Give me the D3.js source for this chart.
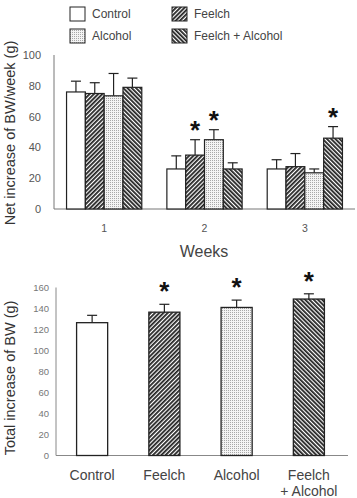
<!DOCTYPE html>
<html><head><meta charset="utf-8">
<script src="https://cdn.jsdelivr.net/npm/d3@7"></script>
<style>body{margin:0;background:#fff;} svg{display:block;} text{font-family:Arial,"Liberation Sans",sans-serif;}</style>
</head><body>
<svg id="c" width="357" height="498"></svg>
<script>
const groups = ["Control","Feelch","Alcohol","Feelch + Alcohol"];
const weeks = ["1","2","3"];
const weeklyMean = [[76,26,26],[75,35,27.5],[73.5,45,23.5],[79,26,46]];
const weeklyErr  = [[7,8.5,6],[7,10,8.5],[14.5,6.5,2.5],[6,4,7.5]];
const weeklySig  = [[0,0,0],[0,1,0],[0,1,0],[0,0,1]];
const topTicks = [0,20,40,60,80,100];
const totalMean = [126.5,136.5,141,149];
const totalErr  = [7,7.5,7,5];
const totalSig  = [0,1,1,1];
const bottomTicks = [0,20,40,60,80,100,120,140,160];
const bottomLabels = [["Control"],["Feelch"],["Alcohol"],["Feelch","+ Alcohol"]];

const svg = d3.select("#c");
const defs = svg.append("defs");
function hatch(id, angle){
  const p = defs.append("pattern").attr("id",id).attr("patternUnits","userSpaceOnUse")
    .attr("width",3).attr("height",3).attr("patternTransform","rotate("+angle+")");
  p.append("rect").attr("width",3).attr("height",3).attr("fill","#fff");
  p.append("rect").attr("width",1.8).attr("height",3).attr("fill","#222");
}
hatch("pF",45); hatch("pFA",-45);
const pd = defs.append("pattern").attr("id","pA").attr("patternUnits","userSpaceOnUse").attr("width",2).attr("height",2);
pd.append("rect").attr("width",2).attr("height",2).attr("fill","#f4f4f4");
pd.append("rect").attr("width",1).attr("height",1).attr("fill","#a8a8a8");
const fills = ["#fff","url(#pF)","url(#pA)","url(#pFA)"];
const ink = "#222";

// Legend
[[0,70,7],[1,172,7],[2,70,29],[3,172,29]].forEach(([g,lx,ly])=>{
  svg.append("rect").attr("x",lx).attr("y",ly).attr("width",15).attr("height",14)
    .attr("fill",fills[g]).attr("stroke",ink).attr("stroke-width",1);
  svg.append("text").attr("x",lx+22).attr("y",ly+11).attr("font-size",12).attr("fill","#444").text(groups[g]);
});

// Top chart
const xT = d3.scaleBand().domain(weeks).range([54,355]).paddingInner(0.25).paddingOuter(0.125);
const xTi = d3.scaleBand().domain(groups).range([0,xT.bandwidth()]);
const yT = d3.scaleLinear().domain([0,100]).range([209,55]);
const gT = svg.append("g");
gT.append("line").attr("x1",54).attr("x2",54).attr("y1",yT(100)).attr("y2",yT(0)).attr("stroke","#777").attr("stroke-width",1);
gT.append("line").attr("x1",54).attr("x2",355).attr("y1",yT(0)).attr("y2",yT(0)).attr("stroke","#777").attr("stroke-width",1);
const axT = d3.axisLeft(yT).tickValues(topTicks).tickSize(0).tickPadding(13);
const axTg = gT.append("g").attr("transform","translate(54,0)").call(axT);
axTg.select(".domain").remove();
axTg.selectAll("text").attr("font-size",11).attr("fill","#555").attr("font-family","Arial,'Liberation Sans',sans-serif");
const axTx = d3.axisBottom(xT).tickSize(0).tickPadding(16);
const axTxg = gT.append("g").attr("transform","translate(0,"+yT(0)+")").call(axTx);
axTxg.select(".domain").remove();
axTxg.selectAll("text").attr("font-size",10.5).attr("fill","#555").attr("font-family","Arial,'Liberation Sans',sans-serif");
gT.append("text").attr("x",204).attr("y",257).attr("text-anchor","middle").attr("font-size",16).attr("fill","#444").text("Weeks");
gT.append("text").attr("transform","translate(15,133) rotate(-90)").attr("text-anchor","middle").attr("font-size",14.5).attr("fill","#333").text("Net increase of BW/week (g)");

groups.forEach((g,gi)=>{
  weeks.forEach((w,wi)=>{
    const x0 = xT(w)+xTi(g), bw = xTi.bandwidth(), cx = x0+bw/2;
    const m = weeklyMean[gi][wi], e = weeklyErr[gi][wi];
    gT.append("line").attr("x1",cx).attr("x2",cx).attr("y1",yT(m)).attr("y2",yT(m+e)).attr("stroke",ink).attr("stroke-width",1.2);
    gT.append("line").attr("x1",cx-5).attr("x2",cx+5).attr("y1",yT(m+e)).attr("y2",yT(m+e)).attr("stroke",ink).attr("stroke-width",1.2);
    gT.append("rect").attr("x",x0).attr("y",yT(m)).attr("width",bw).attr("height",yT(0)-yT(m))
      .attr("fill",fills[gi]).attr("stroke",ink).attr("stroke-width",1.2);
    if (weeklySig[gi][wi]) gT.append("text").attr("x",cx).attr("y",yT(m+e)-1).attr("text-anchor","middle")
      .attr("font-size",26).attr("font-weight","bold").attr("fill","#111").text("*");
  });
});

// Bottom chart
const xB = d3.scaleBand().domain(groups).range([56,345]).paddingInner(0.57).paddingOuter(0.285);
const yB = d3.scaleLinear().domain([0,160]).range([455.5,287.5]);
const gB = svg.append("g");
gB.append("line").attr("x1",56).attr("x2",56).attr("y1",yB(160)).attr("y2",yB(0)).attr("stroke","#888").attr("stroke-width",1);
gB.append("line").attr("x1",56).attr("x2",348).attr("y1",yB(0)).attr("y2",yB(0)).attr("stroke","#888").attr("stroke-width",1);
const axB = d3.axisLeft(yB).tickValues(bottomTicks).tickSize(0).tickPadding(7);
const axBg = gB.append("g").attr("transform","translate(56,0)").call(axB);
axBg.select(".domain").remove();
axBg.selectAll("text").attr("font-size",9.5).attr("fill","#777").attr("font-family","Arial,'Liberation Sans',sans-serif");
gB.append("text").attr("transform","translate(15,378) rotate(-90)").attr("text-anchor","middle").attr("font-size",14.5).attr("fill","#333").text("Total increase of BW (g)");

groups.forEach((g,gi)=>{
  const x0 = xB(g), bw = xB.bandwidth(), cx = x0+bw/2;
  const m = totalMean[gi], e = totalErr[gi];
  gB.append("line").attr("x1",cx).attr("x2",cx).attr("y1",yB(m)).attr("y2",yB(m+e)).attr("stroke",ink).attr("stroke-width",1.2);
  gB.append("line").attr("x1",cx-5).attr("x2",cx+5).attr("y1",yB(m+e)).attr("y2",yB(m+e)).attr("stroke",ink).attr("stroke-width",1.2);
  gB.append("rect").attr("x",x0).attr("y",yB(m)).attr("width",bw).attr("height",yB(0)-yB(m))
    .attr("fill",fills[gi]).attr("stroke",ink).attr("stroke-width",1.3);
  if (totalSig[gi]) gB.append("text").attr("x",cx).attr("y",yB(m+e)-4).attr("text-anchor","middle")
    .attr("font-size",26).attr("font-weight","bold").attr("fill","#111").text("*");
  bottomLabels[gi].forEach((t,li)=>{
    gB.append("text").attr("x",cx).attr("y",480+li*16).attr("text-anchor","middle").attr("font-size",14).attr("fill","#444").text(t);
  });
});
</script>
</body></html>
